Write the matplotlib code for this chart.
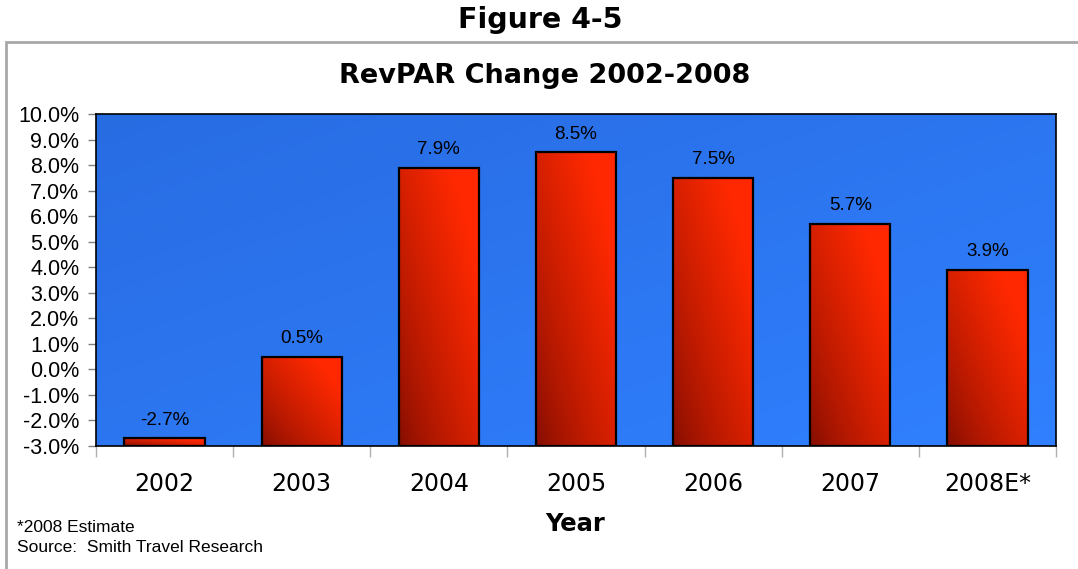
import numpy as np
import matplotlib
matplotlib.use("Agg")
import matplotlib.pyplot as plt
from matplotlib.patches import Rectangle
from matplotlib.ticker import FixedLocator, NullFormatter, FixedFormatter

# ---- data ----
categories = ["2002", "2003", "2004", "2005", "2006", "2007", "2008E*"]
values = [-2.7, 0.5, 7.9, 8.5, 7.5, 5.7, 3.9]
y_ticks = [-3.0, -2.0, -1.0, 0.0, 1.0, 2.0, 3.0, 4.0, 5.0, 6.0, 7.0, 8.0, 9.0, 10.0]
y_min, y_max = -3.0, 10.0

W, H = 1078, 569
fig = plt.figure(figsize=(W / 100, H / 100), dpi=100)
fig.patch.set_facecolor("white")

# outer gray frame
fig.patches.append(Rectangle((6 / W, -0.1), 2.0, 1 - 42 / H + 0.1,
                             transform=fig.transFigure, fill=False,
                             edgecolor="#a8a8a8", linewidth=2.0, zorder=0))

ax = fig.add_axes([96 / W, 1 - 446 / H, (1056 - 96) / W, (446 - 114) / H])
n = len(categories)
x = np.arange(n)
ax.set_xlim(-0.5, n - 0.5)
ax.set_ylim(y_min, y_max)

# background gradient (diagonal, blue)
gx, gy = np.meshgrid(np.linspace(0, 1, 300), np.linspace(0, 1, 200))
tb = np.clip(0.5 * gx + 0.5 * gy, 0, 1)
c0 = np.array([40, 108, 226]) / 255
c1 = np.array([48, 128, 255]) / 255
bg = c0[None, None, :] * (1 - tb[..., None]) + c1[None, None, :] * tb[..., None]
ax.imshow(bg, extent=(-0.5, n - 0.5, y_min, y_max), origin="upper",
          aspect="auto", zorder=0, interpolation="bilinear")

# bars with red diagonal gradient
bar_w = 0.585
bars = ax.bar(x, np.array(values) - y_min, bottom=y_min, width=bar_w,
              facecolor="none", edgecolor="black", linewidth=1.6, zorder=3)
bx, by = np.meshgrid(np.linspace(0, 1, 100), np.linspace(0, 1, 200))
dark = np.array([0.50, 0.05, 0.0])
bright = np.array([1.0, 0.16, 0.0])
for b in bars:
    x0 = b.get_x(); w = b.get_width(); y0 = b.get_y(); h = b.get_height()
    t = np.clip(0.62 * bx + 0.6 * by, 0, 1) ** 0.75
    img = dark[None, None, :] * (1 - t[..., None]) + bright[None, None, :] * t[..., None]
    im = ax.imshow(img, extent=(x0, x0 + w, y0, y0 + h), origin="lower",
                   aspect="auto", zorder=2, interpolation="bilinear")
    clip = Rectangle((x0, y0), w, h, transform=ax.transData)
    im.set_clip_path(clip)
    ax.set_xlim(-0.5, n - 0.5)
    ax.set_ylim(y_min, y_max)

# value labels
for xi, v in zip(x, values):
    ax.annotate(f"{v:.1f}%", (xi, v), xytext=(0, 18), textcoords="offset pixels",
                ha="center", va="center", fontsize=13.5, family="Liberation Sans",
                color="black", zorder=5)

# spines
for s in ax.spines.values():
    s.set_color("black")
    s.set_linewidth(1.2)
    s.set_zorder(6)

# y axis
ax.yaxis.set_major_locator(FixedLocator(y_ticks))
ax.set_yticklabels([f"{t:.1f}%" for t in y_ticks], family="Liberation Sans", fontsize=15.5)
ax.tick_params(axis="y", direction="out", length=6, width=1, color="#808080", pad=6)

# x axis: ticks at boundaries, labels at centers
ax.xaxis.set_major_locator(FixedLocator(np.arange(n + 1) - 0.5))
ax.xaxis.set_major_formatter(NullFormatter())
ax.xaxis.set_minor_locator(FixedLocator(x))
ax.xaxis.set_minor_formatter(FixedFormatter(categories))
ax.tick_params(axis="x", which="major", direction="out", length=8, width=1, color="#b0b0b0")
ax.tick_params(axis="x", which="minor", length=0, pad=19, labelsize=17)
for lab in ax.get_xticklabels(minor=True):
    lab.set_family("DejaVu Sans")

# texts
fig.text(540 / W, 1 - 20 / H, "Figure 4-5", ha="center", va="center",
         fontsize=20.5, fontweight="bold", family="DejaVu Sans")
fig.text(545 / W, 1 - 76 / H, "RevPAR Change 2002-2008", ha="center", va="center",
         fontsize=19.5, fontweight="bold", family="DejaVu Sans")
fig.text(575 / W, 1 - 524 / H, "Year", ha="center", va="center",
         fontsize=17.5, fontweight="bold", family="DejaVu Sans")
fig.text(17 / W, 1 - 527 / H, "*2008 Estimate", ha="left", va="center",
         fontsize=12.5, family="Liberation Sans")
fig.text(17 / W, 1 - 548 / H, "Source:  Smith Travel Research", ha="left", va="center",
         fontsize=12.5, family="Liberation Sans")

fig.savefig("out.png", dpi=100)
